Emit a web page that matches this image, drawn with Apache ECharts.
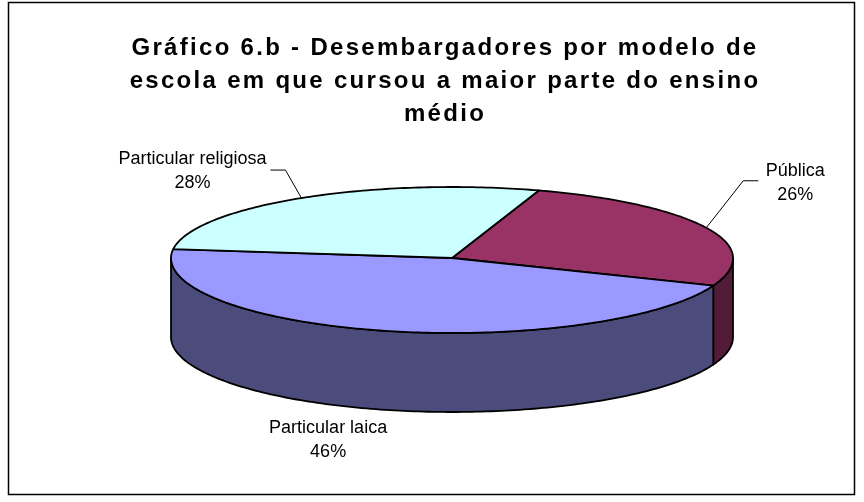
<!DOCTYPE html>
<html><head><meta charset="utf-8">
<script src="https://cdn.jsdelivr.net/npm/echarts@6/dist/echarts.min.js"></script>
<style>html,body{margin:0;padding:0;background:#fff}#c{width:864px;height:502px}</style>
</head><body><div id="c"></div>
<script>
const titleLines = ['Gráfico 6.b - Desembargadores por modelo de', 'escola em que cursou a maior parte do ensino', 'médio'];
const categories = ['Pública', 'Particular laica', 'Particular religiosa'];
const values = [26, 46, 28];
const topColors = ['#993366', '#9999FF', '#CCFFFF'];
const sideColors = ['#521B37', '#4C4C7C', '#668080'];

// geometry of the pseudo-3D pie
const CX = 452, CY = 258, RX = 281, RY_BACK = 71, RY_FRONT = 75, DEPTH = 79, START = 72;
const labelLayout = [
  { leader: [[37, -47], [52, -47]], text: [89, -45] },
  { leader: null, text: [-54, 109] },
  { leader: [[-16, -28], [-31, -28]], text: [-109, -27] }
];

const total = values.reduce((a, b) => a + b, 0);
function angles(i) {
  let acc = 0;
  for (let k = 0; k < i; k++) acc += values[k];
  const a0 = START - acc / total * 360;
  const a1 = a0 - values[i] / total * 360;
  return [a0, a1];
}
function pt(a, dy) {
  const r = a * Math.PI / 180;
  const s = Math.sin(r);
  return [CX + RX * Math.cos(r), CY - (s > 0 ? RY_BACK : RY_FRONT) * s + (dy || 0)];
}
function arc(from, to, dy) {
  const pts = [];
  const n = Math.max(2, Math.ceil(Math.abs(to - from)) + 1);
  for (let j = 0; j <= n; j++) pts.push(pt(from + (to - from) * j / n, dy));
  return pts;
}

function renderSide(params, api) {
  const i = params.dataIndex;
  const [a0, a1] = angles(i);
  const children = [];
  for (const k of [-720, -360, 0, 360]) {
    const lo = Math.max(a1, -180 + k), hi = Math.min(a0, 0 + k);
    if (hi - lo > 0.01) {
      const topEdge = arc(lo, hi, 0);
      const botEdge = arc(hi, lo, DEPTH);
      children.push({
        type: 'polygon', shape: { points: topEdge.concat(botEdge) },
        style: { fill: sideColors[i], stroke: '#000', lineWidth: 1.8, lineJoin: 'round' }
      });
    }
  }
  return { type: 'group', children };
}

function renderTop(params, api) {
  const i = params.dataIndex;
  const [a0, a1] = angles(i);
  const v = api.value(0);
  const pts = [[CX, CY]].concat(arc(a0, a1, 0));
  const mid = (a0 + a1) / 2;
  const anchor = pt(mid, 0);
  const L = labelLayout[i];
  const children = [{
    type: 'polygon', shape: { points: pts },
    style: { fill: topColors[i], stroke: '#000', lineWidth: 1.8, lineJoin: 'round' }
  }];
  if (L.leader) {
    children.push({
      type: 'polyline',
      shape: { points: [anchor].concat(L.leader.map(o => [anchor[0] + o[0], anchor[1] + o[1]])) },
      style: { stroke: '#000', lineWidth: 1, fill: null }
    });
  }
  children.push({
    type: 'text',
    x: anchor[0] + L.text[0], y: anchor[1] + L.text[1],
    style: {
      text: categories[i] + '\n' + Math.round(v / total * 100) + '%',
      align: 'center', verticalAlign: 'middle',
      font: '18px "Liberation Sans", Arial, sans-serif', lineHeight: 24, fill: '#000'
    }
  });
  return { type: 'group', children };
}

const data = values.map((v, i) => ({ value: v, name: categories[i] }));
const chart = echarts.init(document.getElementById('c'), null, { renderer: 'canvas' });
chart.setOption({
  animation: false,
  backgroundColor: '#fff',
  graphic: [
    { type: 'rect', shape: { x: 8.5, y: 2.5, width: 846, height: 492 },
      style: { fill: 'none', stroke: '#000', lineWidth: 1.5 }, z: 0 },
    { type: 'text', x: 445, y: 32, zlevel: 1,
      style: { text: titleLines.join('\n'), align: 'center', verticalAlign: 'top',
        font: 'bold 24px "Liberation Sans", Arial, sans-serif', lineHeight: 33, fill: '#000' } }
  ],
  series: [
    { type: 'custom', coordinateSystem: 'none', z: 2, data, renderItem: renderSide, silent: true },
    { type: 'custom', coordinateSystem: 'none', z: 3, data, renderItem: renderTop, silent: true }
  ]
});
// Excel renders the bold title with extra tracking; emulate it on the title layer
try {
  const zr = chart.getZr();
  const layer = zr.painter.getLayer(1);
  if (layer && layer.ctx && 'letterSpacing' in layer.ctx) {
    layer.ctx.letterSpacing = '2.3px';
    zr.painter.refresh(true);
  }
} catch (e) {}
</script></body></html>
